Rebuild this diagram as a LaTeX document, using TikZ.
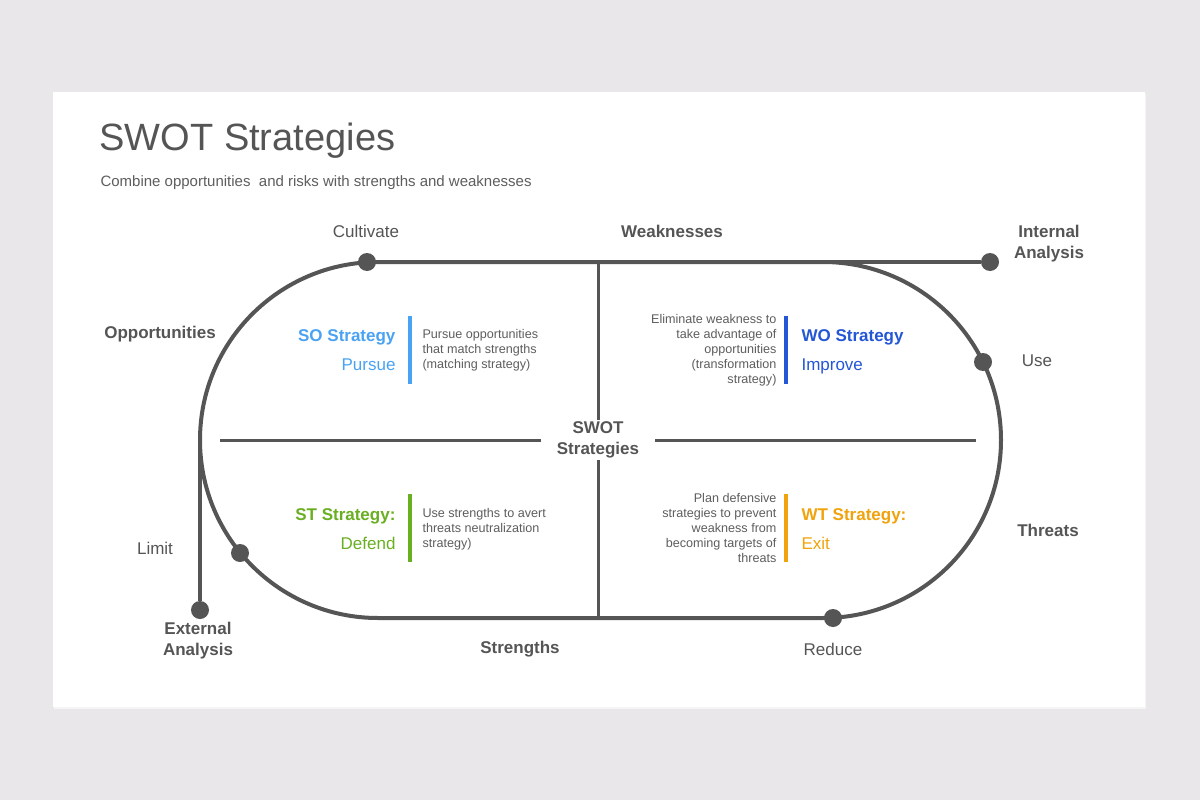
\documentclass[tikz,border=0pt]{standalone}
\usepackage{fontspec}
\setmainfont{Liberation Sans}
\definecolor{pagebg}{HTML}{E9E7E9}
\definecolor{linegray}{HTML}{555555}
\definecolor{labelgray}{HTML}{555555}
\definecolor{descgray}{HTML}{5E5E5E}
\definecolor{soblue}{HTML}{4AA3F2}
\definecolor{woblue}{HTML}{2457D6}
\definecolor{stgreen}{HTML}{6AAF22}
\definecolor{wtorange}{HTML}{F0A30C}
\begin{document}
\begin{tikzpicture}[x=1pt,y=-1pt,
  track/.style={line width=4pt, draw=linegray},
  cross/.style={line width=3pt, draw=linegray},
  dot/.style={circle, fill=linegray, minimum size=18pt, inner sep=0pt},
  lbl/.style={text=labelgray, font=\fontsize{17}{21}\selectfont, align=center},
  blbl/.style={lbl, font=\fontsize{17}{21}\selectfont\bfseries},
  stitle/.style={font=\fontsize{17}{21}\selectfont\bfseries},
  sverb/.style={font=\fontsize{17}{21}\selectfont},
  desc/.style={text=descgray, font=\fontsize{12.6}{15}\selectfont},
  bar/.style={line width=4pt}]
  \def\Xl{200};
  \def\Xr{1001};
  \def\Xmid{598};
  \def\Xbl{410};
  \def\Xbr{786};
  \def\Ytop{262};
  \def\Ymid{440};
  \def\Ybot{618};

  % page and card
  \fill[pagebg] (0,0) rectangle (1200,800);
  \fill[black!4] (54,94) rectangle (1146,709);
  \fill[white] (53,92) rectangle (1145,707);
  \useasboundingbox (0,0) rectangle (1200,800);

  % title
  \node[anchor=west, text=labelgray, font=\fontsize{38}{44}\selectfont] (title) at (96,141) {SWOT Strategies};
  \node[anchor=west, text=descgray, font=\fontsize{15}{18}\selectfont] (subtitle) at (97,183)
    {Combine opportunities\ \ and risks with strengths and weaknesses};

  % track
  \draw[track, rounded corners=178pt] (\Xl,\Ytop) rectangle (\Xr,\Ybot);

  % center
  \node[blbl, inner xsep=16pt, inner ysep=2pt] (swot) at (\Xmid,\Ymid) {SWOT\\Strategies};
  \coordinate (vt) at (\Xmid,\Ytop);
  \coordinate (vb) at (\Xmid,\Ybot);
  \coordinate (hl) at (220,\Ymid);
  \coordinate (hr) at (976,\Ymid);
  \draw[cross] (vt) -- (swot);
  \draw[cross] (swot) -- (vb);
  \draw[cross] (hl) -- (swot);
  \draw[cross] (swot) -- (hr);

  % dots
  \node[dot] (cult) at (367,\Ytop) {};
  \node[dot] (use) at (983,362) {};
  \node[dot] (limit) at (240,553) {};
  \node[dot] (reduce) at (833,\Ybot) {};
  \node[dot] (intdot) at (990,\Ytop) {};
  \node[dot] (extdot) at (\Xl,610) {};

  % connectors
  \coordinate (tr) at (823,\Ytop);
  \coordinate (lp) at (\Xl,\Ymid);
  \draw[track] (tr) -- (intdot);
  \draw[track] (lp) -- (extdot);

  % bars
  \draw[bar, soblue] (\Xbl,316) -- (\Xbl,384);
  \draw[bar, woblue] (\Xbr,316) -- (\Xbr,384);
  \draw[bar, stgreen] (\Xbl,494) -- (\Xbl,562);
  \draw[bar, wtorange] (\Xbr,494) -- (\Xbr,562);

  % strategies
  \node[stitle, soblue, anchor=base east] (so) at (399,341) {SO Strategy};
  \node[sverb, soblue, anchor=base east] (sov) at (399,370) {Pursue};
  \node[desc, anchor=west, align=left] (sod) at (419,350)
    {Pursue opportunities\\that match strengths\\(matching strategy)};

  \node[stitle, woblue, anchor=base west] (wo) at (798,341) {WO Strategy};
  \node[sverb, woblue, anchor=base west] (wov) at (798,370) {Improve};
  \node[desc, anchor=east, align=right] (wod) at (780,350)
    {Eliminate weakness to\\take advantage of\\opportunities\\(transformation\\strategy)};

  \node[stitle, stgreen, anchor=base east] (st) at (399,520) {ST Strategy:};
  \node[sverb, stgreen, anchor=base east] (stv) at (399,549) {Defend};
  \node[desc, anchor=west, align=left] (std) at (419,529)
    {Use strengths to avert\\threats neutralization\\strategy)};

  \node[stitle, wtorange, anchor=base west] (wt) at (798,520) {WT Strategy:};
  \node[sverb, wtorange, anchor=base west] (wtv) at (798,549) {Exit};
  \node[desc, anchor=east, align=right] (wtd) at (780,528)
    {Plan defensive\\strategies to prevent\\weakness from\\becoming targets of\\threats};

  % labels
  \node[lbl] (cultl) at (366,231) {Cultivate};
  \node[blbl] (weak) at (672,231) {Weaknesses};
  \node[blbl] (intl) at (1049,244) {Internal\\Analysis};
  \node[blbl] (opp) at (160,334) {Opportunities};
  \node[lbl] (usel) at (1037,361) {Use};
  \node[blbl] (thr) at (1048,530) {Threats};
  \node[lbl] (liml) at (155,548) {Limit};
  \node[blbl] (extl) at (198,641) {External\\Analysis};
  \node[blbl] (str) at (520,649) {Strengths};
  \node[lbl] (redl) at (833,649) {Reduce};
\end{tikzpicture}
\end{document}
